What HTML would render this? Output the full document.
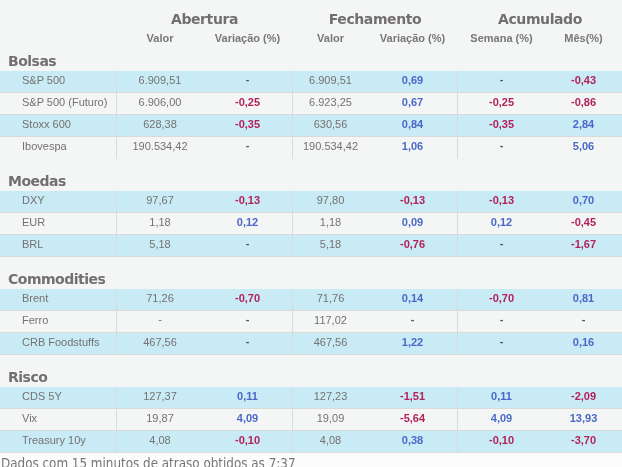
<!DOCTYPE html>
<html><head><meta charset="utf-8"><style>
*{margin:0;padding:0;box-sizing:border-box}
html,body{width:622px;height:467px;overflow:hidden;background:#fcfcfc}
#w{position:absolute;left:0;top:0;width:622px;height:453px;background:#f4f6f5}
.h1{position:absolute;top:10px;height:18px;line-height:18px;font:bold 14px/18px "DejaVu Sans",sans-serif;letter-spacing:-.4px;color:#736f6f;text-align:center;white-space:nowrap}
.h2{position:absolute;top:32px;height:12px;font:bold 11px/12px "Liberation Sans",Arial,sans-serif;color:#777;text-align:center;white-space:nowrap}
.sec{position:absolute;left:8px;height:18px;font:bold 14px/18px "DejaVu Sans",sans-serif;letter-spacing:-.5px;color:#736f6f;white-space:nowrap}
.row{position:absolute;left:0;width:622px;height:22px;border-bottom:1px solid #dadada}
.row.last{border-bottom-color:transparent}
.row.last.bl{border-bottom-color:#dadada}
.row.bl{background:#c9ebf5}
.c{position:absolute;top:-1px;height:21px;font:11px/21px "Liberation Sans",Arial,sans-serif;color:#747171;text-align:center;white-space:nowrap}
.nm{left:0;width:116px;text-align:left;padding-left:22px}
.vb{position:absolute;top:0;width:1px;height:22px;background:#dadada}
.r{color:#b3215a;font-weight:bold}
.b{color:#4a68c8;font-weight:bold}
.d{color:#5a5656;font-weight:bold}
.dash{position:relative;top:-1px}
#ft{position:absolute;left:1px;top:456px;font:13.3px/16px "DejaVu Sans Condensed","DejaVu Sans",sans-serif;color:#777;white-space:nowrap}
</style></head><body>
<div id="w">
<div class="h1" style="left:117px;width:175px">Abertura</div>
<div class="h1" style="left:293px;width:164px">Fechamento</div>
<div class="h1" style="left:458px;width:164px">Acumulado</div>
<div class="h2" style="left:117px;width:86px">Valor</div>
<div class="h2" style="left:203px;width:89px">Variação (%)</div>
<div class="h2" style="left:293px;width:75px">Valor</div>
<div class="h2" style="left:368px;width:89px">Variação (%)</div>
<div class="h2" style="left:459px;width:85px">Semana (%)</div>
<div class="h2" style="left:544px;width:79px">Mês(%)</div>
<div class="sec" style="top:52px">Bolsas</div>
<div class="row bl" style="top:71px">
<div class="c nm">S&amp;P 500</div>
<div class="c" style="left:117px;width:86px">6.909,51</div>
<div class="c d" style="left:203px;width:89px"><span class="dash">-</span></div>
<div class="c" style="left:293px;width:75px">6.909,51</div>
<div class="c b" style="left:368px;width:89px">0,69</div>
<div class="c d" style="left:459px;width:85px"><span class="dash">-</span></div>
<div class="c r" style="left:544px;width:79px"><span class="dash">-</span>0,43</div>
<div class="vb" style="left:116px"></div>
<div class="vb" style="left:292px"></div>
<div class="vb" style="left:457px"></div>
</div>
<div class="row" style="top:93px">
<div class="c nm">S&amp;P 500 (Futuro)</div>
<div class="c" style="left:117px;width:86px">6.906,00</div>
<div class="c r" style="left:203px;width:89px"><span class="dash">-</span>0,25</div>
<div class="c" style="left:293px;width:75px">6.923,25</div>
<div class="c b" style="left:368px;width:89px">0,67</div>
<div class="c r" style="left:459px;width:85px"><span class="dash">-</span>0,25</div>
<div class="c r" style="left:544px;width:79px"><span class="dash">-</span>0,86</div>
<div class="vb" style="left:116px"></div>
<div class="vb" style="left:292px"></div>
<div class="vb" style="left:457px"></div>
</div>
<div class="row bl" style="top:115px">
<div class="c nm">Stoxx 600</div>
<div class="c" style="left:117px;width:86px">628,38</div>
<div class="c r" style="left:203px;width:89px"><span class="dash">-</span>0,35</div>
<div class="c" style="left:293px;width:75px">630,56</div>
<div class="c b" style="left:368px;width:89px">0,84</div>
<div class="c r" style="left:459px;width:85px"><span class="dash">-</span>0,35</div>
<div class="c b" style="left:544px;width:79px">2,84</div>
<div class="vb" style="left:116px"></div>
<div class="vb" style="left:292px"></div>
<div class="vb" style="left:457px"></div>
</div>
<div class="row last" style="top:137px">
<div class="c nm">Ibovespa</div>
<div class="c" style="left:117px;width:86px">190.534,42</div>
<div class="c d" style="left:203px;width:89px"><span class="dash">-</span></div>
<div class="c" style="left:293px;width:75px">190.534,42</div>
<div class="c b" style="left:368px;width:89px">1,06</div>
<div class="c d" style="left:459px;width:85px"><span class="dash">-</span></div>
<div class="c b" style="left:544px;width:79px">5,06</div>
<div class="vb" style="left:116px"></div>
<div class="vb" style="left:292px"></div>
<div class="vb" style="left:457px"></div>
</div>
<div class="sec" style="top:172px">Moedas</div>
<div class="row bl" style="top:191px">
<div class="c nm">DXY</div>
<div class="c" style="left:117px;width:86px">97,67</div>
<div class="c r" style="left:203px;width:89px"><span class="dash">-</span>0,13</div>
<div class="c" style="left:293px;width:75px">97,80</div>
<div class="c r" style="left:368px;width:89px"><span class="dash">-</span>0,13</div>
<div class="c r" style="left:459px;width:85px"><span class="dash">-</span>0,13</div>
<div class="c b" style="left:544px;width:79px">0,70</div>
<div class="vb" style="left:116px"></div>
<div class="vb" style="left:292px"></div>
<div class="vb" style="left:457px"></div>
</div>
<div class="row" style="top:213px">
<div class="c nm">EUR</div>
<div class="c" style="left:117px;width:86px">1,18</div>
<div class="c b" style="left:203px;width:89px">0,12</div>
<div class="c" style="left:293px;width:75px">1,18</div>
<div class="c b" style="left:368px;width:89px">0,09</div>
<div class="c b" style="left:459px;width:85px">0,12</div>
<div class="c r" style="left:544px;width:79px"><span class="dash">-</span>0,45</div>
<div class="vb" style="left:116px"></div>
<div class="vb" style="left:292px"></div>
<div class="vb" style="left:457px"></div>
</div>
<div class="row bl last" style="top:235px">
<div class="c nm">BRL</div>
<div class="c" style="left:117px;width:86px">5,18</div>
<div class="c d" style="left:203px;width:89px"><span class="dash">-</span></div>
<div class="c" style="left:293px;width:75px">5,18</div>
<div class="c r" style="left:368px;width:89px"><span class="dash">-</span>0,76</div>
<div class="c d" style="left:459px;width:85px"><span class="dash">-</span></div>
<div class="c r" style="left:544px;width:79px"><span class="dash">-</span>1,67</div>
<div class="vb" style="left:116px"></div>
<div class="vb" style="left:292px"></div>
<div class="vb" style="left:457px"></div>
</div>
<div class="sec" style="top:270px">Commodities</div>
<div class="row bl" style="top:289px">
<div class="c nm">Brent</div>
<div class="c" style="left:117px;width:86px">71,26</div>
<div class="c r" style="left:203px;width:89px"><span class="dash">-</span>0,70</div>
<div class="c" style="left:293px;width:75px">71,76</div>
<div class="c b" style="left:368px;width:89px">0,14</div>
<div class="c r" style="left:459px;width:85px"><span class="dash">-</span>0,70</div>
<div class="c b" style="left:544px;width:79px">0,81</div>
<div class="vb" style="left:116px"></div>
<div class="vb" style="left:292px"></div>
<div class="vb" style="left:457px"></div>
</div>
<div class="row" style="top:311px">
<div class="c nm">Ferro</div>
<div class="c" style="left:117px;width:86px"><span class="dash">-</span></div>
<div class="c d" style="left:203px;width:89px"><span class="dash">-</span></div>
<div class="c" style="left:293px;width:75px">117,02</div>
<div class="c d" style="left:368px;width:89px"><span class="dash">-</span></div>
<div class="c d" style="left:459px;width:85px"><span class="dash">-</span></div>
<div class="c d" style="left:544px;width:79px"><span class="dash">-</span></div>
<div class="vb" style="left:116px"></div>
<div class="vb" style="left:292px"></div>
<div class="vb" style="left:457px"></div>
</div>
<div class="row bl last" style="top:333px">
<div class="c nm">CRB Foodstuffs</div>
<div class="c" style="left:117px;width:86px">467,56</div>
<div class="c d" style="left:203px;width:89px"><span class="dash">-</span></div>
<div class="c" style="left:293px;width:75px">467,56</div>
<div class="c b" style="left:368px;width:89px">1,22</div>
<div class="c d" style="left:459px;width:85px"><span class="dash">-</span></div>
<div class="c b" style="left:544px;width:79px">0,16</div>
<div class="vb" style="left:116px"></div>
<div class="vb" style="left:292px"></div>
<div class="vb" style="left:457px"></div>
</div>
<div class="sec" style="top:368px">Risco</div>
<div class="row bl" style="top:387px">
<div class="c nm">CDS 5Y</div>
<div class="c" style="left:117px;width:86px">127,37</div>
<div class="c b" style="left:203px;width:89px">0,11</div>
<div class="c" style="left:293px;width:75px">127,23</div>
<div class="c r" style="left:368px;width:89px"><span class="dash">-</span>1,51</div>
<div class="c b" style="left:459px;width:85px">0,11</div>
<div class="c r" style="left:544px;width:79px"><span class="dash">-</span>2,09</div>
<div class="vb" style="left:116px"></div>
<div class="vb" style="left:292px"></div>
<div class="vb" style="left:457px"></div>
</div>
<div class="row" style="top:409px">
<div class="c nm">Vix</div>
<div class="c" style="left:117px;width:86px">19,87</div>
<div class="c b" style="left:203px;width:89px">4,09</div>
<div class="c" style="left:293px;width:75px">19,09</div>
<div class="c r" style="left:368px;width:89px"><span class="dash">-</span>5,64</div>
<div class="c b" style="left:459px;width:85px">4,09</div>
<div class="c b" style="left:544px;width:79px">13,93</div>
<div class="vb" style="left:116px"></div>
<div class="vb" style="left:292px"></div>
<div class="vb" style="left:457px"></div>
</div>
<div class="row bl last" style="top:431px">
<div class="c nm">Treasury 10y</div>
<div class="c" style="left:117px;width:86px">4,08</div>
<div class="c r" style="left:203px;width:89px"><span class="dash">-</span>0,10</div>
<div class="c" style="left:293px;width:75px">4,08</div>
<div class="c b" style="left:368px;width:89px">0,38</div>
<div class="c r" style="left:459px;width:85px"><span class="dash">-</span>0,10</div>
<div class="c r" style="left:544px;width:79px"><span class="dash">-</span>3,70</div>
<div class="vb" style="left:116px"></div>
<div class="vb" style="left:292px"></div>
<div class="vb" style="left:457px"></div>
</div>
</div>
<div id="ft">Dados com 15 minutos de atraso obtidos as 7:37</div>
</body></html>
